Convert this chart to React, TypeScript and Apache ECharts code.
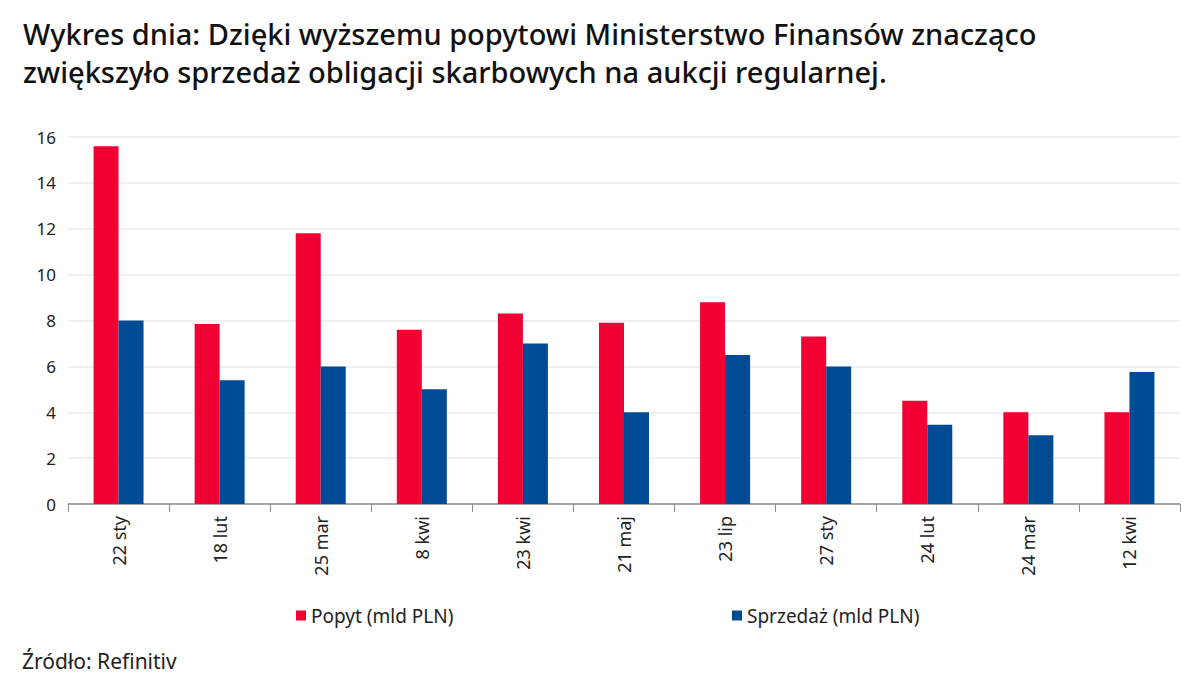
import React, { useEffect, useRef } from "react";
import * as echarts from "echarts";

const categories = ["22 sty", "18 lut", "25 mar", "8 kwi", "23 kwi", "21 maj", "23 lip", "27 sty", "24 lut", "24 mar", "12 kwi"];
const popyt = [15.6, 7.85, 11.8, 7.6, 8.3, 7.9, 8.8, 7.3, 4.5, 4.0, 4.0];
const sprzedaz = [8.0, 5.4, 6.0, 5.0, 7.0, 4.0, 6.5, 6.0, 3.45, 3.0, 5.75];
const seriesNames = ["Popyt (mld PLN)", "Sprzedaż (mld PLN)"];
const titleText = "Wykres dnia: Dzięki wyższemu popytowi Ministerstwo Finansów znacząco\nzwiększyło sprzedaż obligacji skarbowych na aukcji regularnej.";
const sourceText = "Źródło: Refinitiv";

const RED = "#F00033";
const BLUE = "#004C94";
const FONT = "'Noto Sans', 'Open Sans', sans-serif";

export default function App() {
  const ref = useRef<HTMLDivElement>(null);
  useEffect(() => {
    if (!ref.current) return;
    const chart = echarts.init(ref.current, null, { renderer: "svg" });
    chart.setOption({
      animation: false,
      backgroundColor: "#ffffff",
      textStyle: { fontFamily: FONT },
      title: {
        text: titleText,
        left: 18,
        top: 9,
        textStyle: { fontFamily: FONT, fontSize: 29, fontWeight: 500, color: "#111111", lineHeight: 38 },
      },
      graphic: [
        {
          type: "text",
          left: 22,
          top: 650,
          style: { text: sourceText, fontFamily: FONT, fontSize: 21, fill: "#222222" },
        },
      ],
      legend: [
        {
          data: [seriesNames[0]],
          left: 291,
          top: 601,
          itemWidth: 10,
          itemHeight: 10,
          icon: "rect",
          textStyle: { fontFamily: FONT, fontSize: 19, color: "#222222" },
        },
        {
          data: [seriesNames[1]],
          left: 727,
          top: 601,
          itemWidth: 10,
          itemHeight: 10,
          icon: "rect",
          textStyle: { fontFamily: FONT, fontSize: 19, color: "#222222" },
        },
      ],
      grid: { left: 68, right: 19, top: 137, bottom: 189, containLabel: false },
      xAxis: {
        type: "category",
        data: categories,
        axisLine: { show: true, lineStyle: { color: "#8c8c8c", width: 1.5 } },
        axisTick: { show: true, length: 8, alignWithLabel: false, lineStyle: { color: "#8c8c8c" } },
        axisLabel: { rotate: 90, margin: 12, fontFamily: FONT, fontSize: 18, color: "#222222" },
      },
      yAxis: {
        type: "value",
        min: 0,
        max: 16,
        interval: 2,
        axisLine: { show: false },
        axisTick: { show: false },
        axisLabel: { margin: 12, fontFamily: FONT, fontSize: 17, color: "#222222" },
        splitLine: { lineStyle: { color: "#ebebeb", width: 1.5 } },
      },
      series: [
        { name: seriesNames[0], type: "bar", data: popyt, barWidth: 25, barGap: "0%", itemStyle: { color: RED } },
        { name: seriesNames[1], type: "bar", data: sprzedaz, barWidth: 25, barGap: "0%", itemStyle: { color: BLUE } },
      ],
    });
    return () => chart.dispose();
  }, []);
  return <div ref={ref} style={{ position: "fixed", left: 0, top: 0, width: 1199, height: 693 }} />;
}
